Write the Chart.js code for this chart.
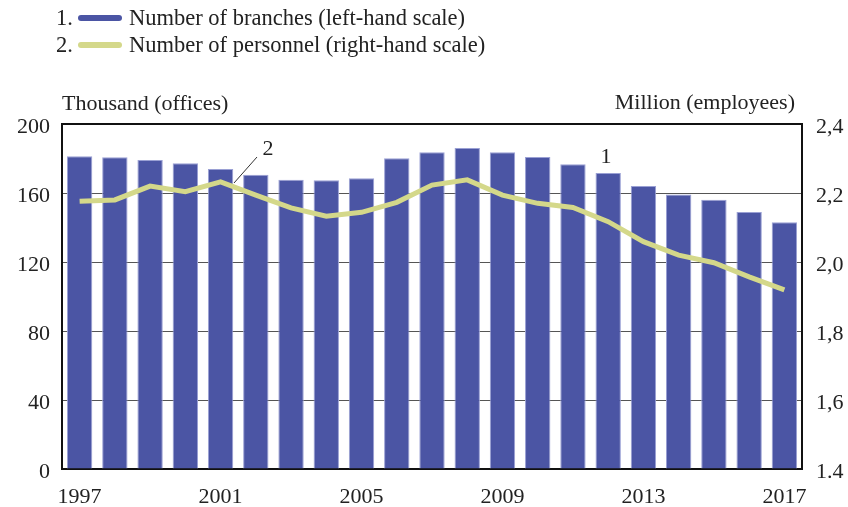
<!DOCTYPE html>
<html>
<head>
<meta charset="utf-8">
<script src="https://cdn.jsdelivr.net/npm/chart.js@4"></script>
<style>
html,body{margin:0;padding:0;background:#fff;}
#wrap{width:848px;height:507px;position:relative;}
</style>
</head>
<body>
<div id="wrap"><canvas id="c" width="848" height="507"></canvas></div>
<script>
const years = ['1997','1998','1999','2000','2001','2002','2003','2004','2005','2006','2007','2008','2009','2010','2011','2012','2013','2014','2015','2016','2017'];
const branches = [181.3,180.7,179.1,177.2,173.9,170.6,167.7,167.4,168.5,180.1,183.6,186.1,183.6,180.9,176.6,171.6,164.1,159.2,156.1,149.0,143.0];
const personnel = [2.176,2.180,2.220,2.204,2.232,2.194,2.157,2.133,2.144,2.173,2.223,2.238,2.194,2.170,2.158,2.117,2.059,2.020,1.998,1.957,1.919];
const shownYears = ['1997','2001','2005','2009','2013','2017'];
const rightTickLabels = {'1.4':'1.4','1.6':'1,6','1.8':'1,8','2.0':'2,0','2.2':'2,2','2.4':'2,4'};
const legendLabels = ['Number of branches (left-hand scale)','Number of personnel (right-hand scale)'];
const leftTitle = 'Thousand (offices)';
const rightTitle = 'Million (employees)';

const FONT = '"Liberation Serif", "Times New Roman", serif';
const BAR = '#4b55a4';
const LINE = '#d4d88a';
const TXT = '#222';

const overlay = {
  id:'overlay',
  afterDraw(chart){
    const ctx = chart.ctx;
    ctx.save();
    ctx.fillStyle = TXT;
    ctx.textBaseline = 'middle';
    // legend
    ctx.font = '22.5px ' + FONT;
    const rows = [{y:19,c:BAR,n:'1.'},{y:46,c:LINE,n:'2.'}];
    rows.forEach((r,i)=>{
      ctx.textAlign='left';
      ctx.fillStyle = TXT;
      ctx.fillText(r.n, 56, r.y);
      ctx.strokeStyle = r.c; ctx.lineWidth = 6; ctx.lineCap='round';
      ctx.beginPath(); ctx.moveTo(81, r.y-1); ctx.lineTo(119, r.y-1); ctx.stroke();
      ctx.fillText(legendLabels[i], 129, r.y);
    });
    // axis titles
    ctx.font = '22px ' + FONT;
    ctx.textAlign='left';
    ctx.fillText(leftTitle, 62, 104);
    ctx.textAlign='right';
    ctx.fillText(rightTitle, 795, 103);
    // annotations
    ctx.font = '22px ' + FONT;
    ctx.textAlign='center';
    ctx.fillText('2', 268, 149);
    ctx.fillText('1', 606, 157);
    ctx.strokeStyle = '#333'; ctx.lineWidth = 1; ctx.lineCap='butt';
    ctx.beginPath(); ctx.moveTo(234, 183); ctx.lineTo(257, 157); ctx.stroke();
    ctx.restore();
  }
};

new Chart(document.getElementById('c'), {
  data:{
    labels: years,
    datasets:[
      {type:'line', label:legendLabels[1], data:personnel, yAxisID:'y2', borderColor:LINE, borderWidth:5, pointRadius:0, tension:0, order:0},
      {type:'bar', label:legendLabels[0], data:branches, yAxisID:'y', backgroundColor:BAR, borderColor:'#9aa0d4', borderWidth:{top:1,left:1,right:1,bottom:0}, barPercentage:0.72, categoryPercentage:1, order:1}
    ]
  },
  options:{
    responsive:false,
    animation:false,
    layout:{padding:{top:124,left:0,right:0,bottom:0}},
    plugins:{legend:{display:false},tooltip:{enabled:false}},
    scales:{
      x:{
        grid:{display:false, drawTicks:false},
        border:{display:true,color:'#111',width:2},
        ticks:{autoSkip:false, maxRotation:0, color:TXT, font:{family:FONT,size:22}, padding:15,
          callback:function(v){const l=this.getLabelForValue(v);return shownYears.includes(l)?l:'';}},
        afterFit(s){s.height=38;}
      },
      y:{
        position:'left', min:0, max:200,
        ticks:{stepSize:40, color:TXT, font:{family:FONT,size:22}, padding:12, labelOffset:3},
        grid:{color:'#555', lineWidth:1, drawTicks:false},
        border:{display:true,color:'#111',width:2},
        afterFit(s){s.width=62;}
      },
      y2:{
        position:'right', min:1.4, max:2.4,
        ticks:{stepSize:0.2, color:TXT, font:{family:FONT,size:22}, padding:14, labelOffset:3,
          callback:(v)=>rightTickLabels[v.toFixed(1)]},
        grid:{display:false, drawTicks:false},
        border:{display:true,color:'#111',width:2},
        afterFit(s){s.width=46;}
      }
    }
  },
  plugins:[overlay, {
    id:'topBorder',
    afterDatasetsDraw(chart){
      const a=chart.chartArea, ctx=chart.ctx;
      ctx.save(); ctx.strokeStyle='#111'; ctx.lineWidth=2;
      ctx.beginPath(); ctx.moveTo(a.left,a.top); ctx.lineTo(a.right,a.top); ctx.stroke();
      ctx.restore();
    }
  }]
});
</script>
</body>
</html>
